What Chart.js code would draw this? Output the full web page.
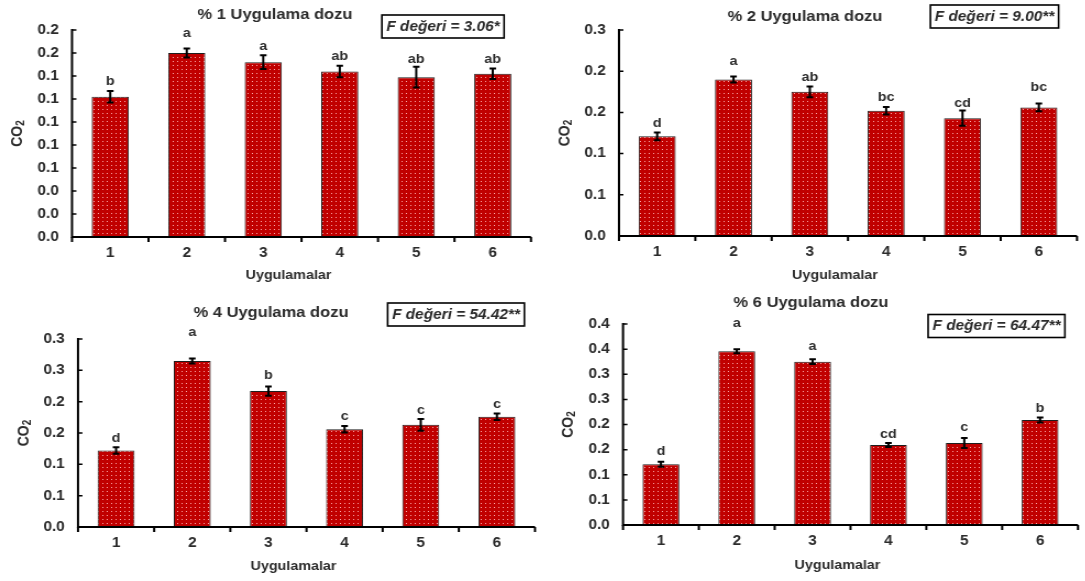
<!DOCTYPE html>
<html>
<head>
<meta charset="utf-8">
<script src="https://cdn.jsdelivr.net/npm/chart.js@4.4.0/dist/chart.umd.min.js"></script>
<style>
  html, body { margin: 0; padding: 0; background: #fff; }
  #board { position: relative; width: 1085px; height: 581px; overflow: hidden; background: #fff; }
  .panel { position: absolute; transform-origin: 0 0; }
  .panel canvas { display: block; }
</style>
</head>
<body>
<div id="board"></div>
<script>
// ---- data ----
const categories = ['1', '2', '3', '4', '5', '6'];

const dose1Values = [0.122, 0.160, 0.152, 0.144, 0.139, 0.142];
const dose1Errors = [0.005, 0.004, 0.006, 0.005, 0.009, 0.0045];
const dose1Letters = ['b', 'a', 'a', 'ab', 'ab', 'ab'];
const dose1Ticks = ['0.0', '0.0', '0.0', '0.1', '0.1', '0.1', '0.1', '0.1', '0.2', '0.2'];

const dose2Values = [0.121, 0.190, 0.175, 0.152, 0.143, 0.156];
const dose2Errors = [0.0047, 0.0036, 0.0065, 0.0046, 0.0093, 0.0047];
const dose2Letters = ['d', 'a', 'ab', 'bc', 'cd', 'bc'];
const dose2Ticks = ['0.0', '0.1', '0.1', '0.2', '0.2', '0.3'];

const dose4Values = [0.122, 0.265, 0.217, 0.156, 0.163, 0.176];
const dose4Errors = [0.0053, 0.004, 0.0074, 0.0053, 0.0093, 0.0053];
const dose4Letters = ['d', 'a', 'b', 'c', 'c', 'c'];
const dose4Ticks = ['0.0', '0.1', '0.1', '0.2', '0.2', '0.3', '0.3'];

const dose6Values = [0.121, 0.346, 0.325, 0.159, 0.163, 0.209];
const dose6Errors = [0.005, 0.004, 0.0047, 0.004, 0.01, 0.005];
const dose6Letters = ['d', 'a', 'a', 'cd', 'c', 'b'];
const dose6Ticks = ['0.0', '0.1', '0.1', '0.2', '0.2', '0.3', '0.3', '0.4', '0.4'];

const panelTitles = ['% 1 Uygulama dozu', '% 2 Uygulama dozu', '% 4 Uygulama dozu', '% 6 Uygulama dozu'];
const fValues = ['3.06*', '9.00**', '54.42**', '64.47**'];
const xTitle = 'Uygulamalar';

// ---- layout (px, panel-local) ----
const SX = 1.1;          // horizontal stretch of each panel
const TEXT = '#2b2b2b';
const FONT = '"Liberation Sans", Arial, Helvetica, sans-serif';
const LETTER_GAP = 5.5;  // gap between error cap and letter baseline

const panels = [
  { values: dose1Values, errors: dose1Errors, letters: dose1Letters, ticks: dose1Ticks, max: 0.18, step: 0.02,
    box: { left: 0, top: 0, w: 542, h: 290 }, area: { l: 72, r: 531, t: 30, b: 237 },
    title: { x: 275, y: 14.5 }, fbox: { x: 443, y: 26.5 }, xt: 275,
    lift: [0, 6, 0, 0, -2, 0] },
  { values: dose2Values, errors: dose2Errors, letters: dose2Letters, ticks: dose2Ticks, max: 0.25, step: 0.05,
    box: { left: 542, top: 0, w: 543, h: 290 }, area: { l: 77, r: 535, t: 30, b: 236 },
    title: { x: 263, y: 17 }, fbox: { x: 452.5, y: 16.5 }, xt: 275,
    lift: [0, 5.5, 0, 0, -2, 7.5] },
  { values: dose4Values, errors: dose4Errors, letters: dose4Letters, ticks: dose4Ticks, max: 0.30, step: 0.05,
    box: { left: 0, top: 290, w: 542, h: 291 }, area: { l: 78, r: 535, t: 49, b: 237 },
    title: { x: 271, y: 23 }, fbox: { x: 456, y: 24.5 }, xt: 276,
    lift: [0, 17, 2, 0, 0, 0] },
  { values: dose6Values, errors: dose6Errors, letters: dose6Letters, ticks: dose6Ticks, max: 0.40, step: 0.05,
    box: { left: 542, top: 290, w: 543, h: 291 }, area: { l: 81, r: 536, t: 34, b: 235 },
    title: { x: 269, y: 13 }, fbox: { x: 454.5, y: 36 }, xt: 275,
    lift: [1, 16.5, 3.5, 0, 2, 0] }
];

// red fill with a fine light dot grid
function dottedFill(ctx) {
  const tile = document.createElement('canvas');
  tile.width = 4; tile.height = 4;
  const g = tile.getContext('2d');
  g.fillStyle = '#c00000';
  g.fillRect(0, 0, 4, 4);
  g.fillStyle = 'rgba(255,185,185,0.9)';
  g.fillRect(1, 1, 1, 1);
  return ctx.createPattern(tile, 'repeat');
}

function decorations(p, idx) {
  return {
    id: 'decor' + idx,
    afterDraw(chart) {
      const { ctx, chartArea: a, scales: { x, y } } = chart;
      const meta = chart.getDatasetMeta(0);
      ctx.save();

      // axes
      ctx.strokeStyle = '#000';
      ctx.lineWidth = 2;
      ctx.beginPath();
      ctx.moveTo(a.left, a.top - 1);
      ctx.lineTo(a.left, a.bottom);
      ctx.lineTo(a.right, a.bottom);
      ctx.stroke();

      // inward y ticks
      ctx.lineWidth = 1.5;
      ctx.beginPath();
      y.ticks.forEach(t => {
        const py = y.getPixelForValue(t.value);
        ctx.moveTo(a.left, py);
        ctx.lineTo(a.left + 4, py);
      });
      ctx.stroke();

      // x ticks between categories
      const half = (x.getPixelForValue(1) - x.getPixelForValue(0)) / 2;
      ctx.lineWidth = 2;
      ctx.beginPath();
      for (let i = 0; i <= categories.length; i++) {
        const px = i < categories.length ? x.getPixelForValue(i) - half : x.getPixelForValue(i - 1) + half;
        ctx.moveTo(px, a.bottom);
        ctx.lineTo(px, a.bottom + 5);
      }
      ctx.stroke();

      // error bars and group letters
      ctx.lineWidth = 2;
      ctx.font = 'bold 13px ' + FONT;
      ctx.textAlign = 'center';
      ctx.textBaseline = 'alphabetic';
      meta.data.forEach((bar, i) => {
        const v = p.values[i], e = p.errors[i];
        const yt = y.getPixelForValue(v + e);
        const yb = y.getPixelForValue(v - e);
        ctx.beginPath();
        ctx.moveTo(bar.x, yt); ctx.lineTo(bar.x, yb);
        ctx.moveTo(bar.x - 3, yt); ctx.lineTo(bar.x + 3, yt);
        ctx.moveTo(bar.x - 3, yb); ctx.lineTo(bar.x + 3, yb);
        ctx.stroke();
        ctx.fillStyle = TEXT;
        ctx.fillText(p.letters[i], bar.x, yt - LETTER_GAP - p.lift[i]);
      });

      // panel title
      ctx.fillStyle = TEXT;
      ctx.font = 'bold 15px ' + FONT;
      ctx.textBaseline = 'middle';
      ctx.fillText(panelTitles[idx], p.title.x / SX, p.title.y);

      // F value box
      ctx.font = 'italic bold 14px ' + FONT;
      const ftxt = 'F değeri = ' + fValues[idx];
      const fw = ctx.measureText(ftxt).width;
      const bw = fw + 8, bh = 23;
      const bx = p.fbox.x / SX - bw / 2, by = p.fbox.y - bh / 2;
      ctx.fillStyle = '#fff';
      ctx.fillRect(bx, by, bw, bh);
      ctx.strokeStyle = '#000';
      ctx.lineWidth = 1.6;
      ctx.strokeRect(bx, by, bw, bh);
      ctx.fillStyle = TEXT;
      ctx.fillText(ftxt, p.fbox.x / SX, p.fbox.y + 0.5);

      // x axis title
      ctx.font = 'bold 13px ' + FONT;
      ctx.fillText(xTitle, (a.left + a.right) / 2 - 13 / SX, p.xt);

      // y axis title: CO with subscript 2
      const cx = a.left - 54 / SX, cy = (a.top + a.bottom) / 2;
      ctx.translate(cx, cy);
      ctx.rotate(-Math.PI / 2);
      ctx.font = 'bold 14px ' + FONT;
      const w1 = ctx.measureText('CO').width;
      ctx.font = 'bold 10px ' + FONT;
      const w2 = ctx.measureText('2').width;
      const start = -(w1 + w2) / 2;
      ctx.textAlign = 'left';
      ctx.font = 'bold 14px ' + FONT;
      ctx.fillText('CO', start, 0);
      ctx.font = 'bold 10px ' + FONT;
      ctx.fillText('2', start + w1, 3);

      ctx.restore();
    }
  };
}

const board = document.getElementById('board');

panels.forEach((p, idx) => {
  const wrap = document.createElement('div');
  wrap.className = 'panel';
  wrap.style.left = p.box.left + 'px';
  wrap.style.top = p.box.top + 'px';
  wrap.style.transform = 'scaleX(' + SX + ')';
  const cw = Math.round(p.box.w / SX);
  const ch = p.box.h;
  const canvas = document.createElement('canvas');
  canvas.width = cw;
  canvas.height = ch;
  canvas.style.width = cw + 'px';
  canvas.style.height = ch + 'px';
  wrap.appendChild(canvas);
  board.appendChild(wrap);

  const ctx = canvas.getContext('2d');
  const areaL = p.area.l / SX, areaR = p.area.r / SX;

  new Chart(ctx, {
    type: 'bar',
    data: {
      labels: categories,
      datasets: [{
        data: p.values,
        backgroundColor: dottedFill(ctx),
        borderColor: '#1e1e1e',
        borderWidth: 1,
        borderSkipped: false,
        barPercentage: 0.485,
        categoryPercentage: 1.0
      }]
    },
    options: {
      responsive: false,
      devicePixelRatio: 1,
      animation: false,
      layout: { padding: { left: 0, top: p.area.t, right: cw - areaR, bottom: 0 } },
      plugins: { legend: { display: false }, tooltip: { enabled: false }, title: { display: false } },
      scales: {
        x: {
          type: 'category',
          offset: true,
          grid: { display: false, drawTicks: false },
          border: { display: false },
          ticks: { color: TEXT, font: { family: FONT, size: 14, weight: 'bold' }, padding: 7.5, maxRotation: 0 },
          afterFit: s => { s.height = ch - p.area.b; }
        },
        y: {
          min: 0,
          max: p.max,
          grid: { display: false, drawTicks: false },
          border: { display: false },
          ticks: {
            stepSize: p.step,
            color: TEXT,
            font: { family: FONT, size: 14, weight: 'bold' },
            padding: 12,
            callback: (v, i) => p.ticks[i] !== undefined ? p.ticks[i] : v.toFixed(1)
          },
          afterFit: s => { s.width = areaL; }
        }
      }
    },
    plugins: [decorations(p, idx)]
  });
});
</script>
</body>
</html>
